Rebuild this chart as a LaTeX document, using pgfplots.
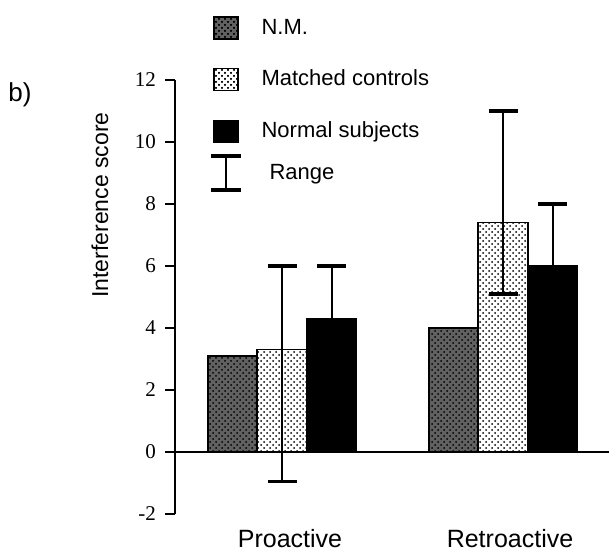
\documentclass[border=0pt]{standalone}
\usepackage{fontspec}
\setmainfont{Liberation Sans}
\newfontfamily\serifnum{Liberation Serif}
\usepackage{pgfplots}
\pgfplotsset{compat=1.18}
\usetikzlibrary{patterns}

\begin{document}
\begin{tikzpicture}
\useasboundingbox (0,0) rectangle (304.5pt,275pt);
\node[anchor=base west, inner sep=0pt, font=\fontsize{13}{15}\selectfont] at (4pt,224pt) {b)};
\begin{axis}[
  at={(87.5pt,18pt)}, anchor=south west,
  scale only axis, width=217pt, height=217pt,
  xmin=175, xmax=609, ymin=-2, ymax=12,
  axis y line*=left, axis x line*=bottom,
  x axis line style={draw=none},
  y axis line style={line width=1pt},
  ytick={-2,0,2,4,6,8,10,12},
  tick align=outside, major tick length=5pt,
  y tick style={line width=0.9pt, black},
  x tick style={draw=none},
  xtick={290,510}, xticklabels={Proactive,Retroactive},
  xticklabel style={font=\fontsize{12.5}{14}\selectfont, yshift=1pt},
  /pgf/number format/assume math mode=true,
  yticklabel style={font=\serifnum\fontsize{10.5}{12}\selectfont, xshift=-1pt},
  ylabel={Interference score},
  ylabel style={font=\fontsize{11.5}{13}\selectfont, at={(axis description cs:-0.173,0.712)}, anchor=center},
  clip=false,
  ybar, bar width=49.5,
  legend style={draw=none, fill=none, inner sep=0pt, outer sep=0pt,
    at={(axis description cs:0.0875,1.15)}, anchor=north west,
    font=\fontsize{11}{13}\selectfont, row sep=12.5pt,
    /tikz/every odd column/.append style={column sep=9.5pt}},
  legend cell align=left,
  error bars/error mark=|,
  error bars/error bar style={line width=1pt, black},
  error bars/error mark options={line width=1.8pt, mark size=7.25pt, black},
]
\draw[line width=1pt] (axis cs:175,0) -- (axis cs:609,0);
\addplot[bar shift=-49.5, draw=black, line width=0.8pt, fill=black!62,
  postaction={pattern=crosshatch dots, pattern color=black},
  legend image code/.code={\draw[draw=black, line width=0.8pt, fill=black!62, postaction={pattern=crosshatch dots, pattern color=black}] (0pt,-5.5pt) rectangle (12pt,5.5pt);}]
  coordinates {(282,3.1) (503,4.0)};
\addlegendentry{N.M.}
\addplot[bar shift=0, draw=black, line width=0.8pt, fill=white,
  postaction={pattern=crosshatch dots, pattern color=black},
  legend image code/.code={\draw[draw=black, line width=0.8pt, fill=white, postaction={pattern=crosshatch dots, pattern color=black}] (0pt,-5.5pt) rectangle (12pt,5.5pt);},
  error bars/.cd, y dir=both, y explicit]
  coordinates {(282,3.3) += (0,2.7) -= (0,4.25) (503,7.4) += (0,3.6) -= (0,2.3)};
\addlegendentry{Matched controls}
\addplot[bar shift=49.5, draw=black, line width=0.8pt, fill=black,
  legend image code/.code={\draw[draw=black, line width=0.8pt, fill=black] (0pt,-5.5pt) rectangle (12pt,5.5pt);},
  error bars/.cd, y dir=plus, y explicit]
  coordinates {(282,4.3) += (0,1.7) (503,6.0) += (0,2.0)};
\addlegendentry{Normal subjects}
\addlegendimage{draw=none, fill=none, legend image code/.code={
  \pgfpathrectangle{\pgfpoint{0pt}{-5.5pt}}{\pgfpoint{12pt}{11pt}}\pgfusepath{discard}
  \begin{scope}[overlay, yshift=5pt]
  \draw[draw=black, line width=1pt] (6pt,-8.5pt) -- (6pt,8.5pt);
  \draw[draw=black, line width=1.8pt] (-1.5pt,8.5pt) -- (13.5pt,8.5pt);
  \draw[draw=black, line width=1.8pt] (-1.5pt,-8.5pt) -- (13.5pt,-8.5pt);
  \end{scope}}}
\addlegendentry{\raisebox{5pt}[\height][\depth]{\hspace{4pt}Range}}
\end{axis}
\end{tikzpicture}
\end{document}
